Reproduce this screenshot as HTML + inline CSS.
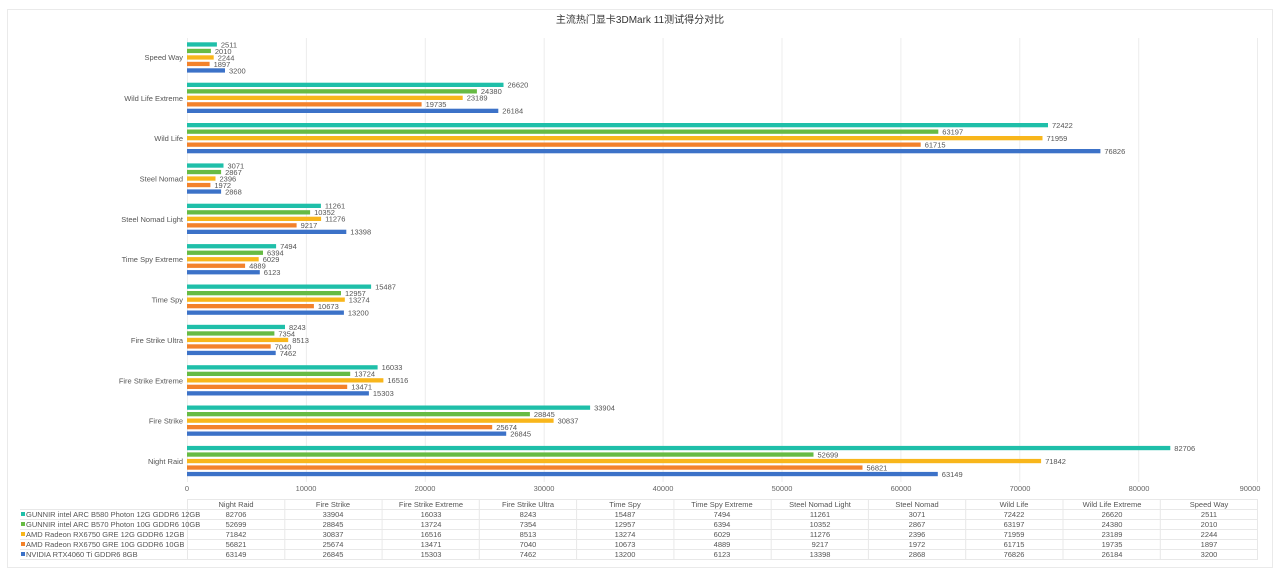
<!DOCTYPE html>
<html><head><meta charset="utf-8"><style>
html,body{margin:0;padding:0;background:#fff;}
svg{display:block;font-family:"Liberation Sans","Noto Sans CJK SC",sans-serif;}
.v{font-size:7.5px;fill:#555;}
.c{font-size:7.5px;fill:#555;text-anchor:end;}
.a{font-size:7.5px;fill:#666;text-anchor:middle;}
.t{font-size:7.5px;fill:#555;text-anchor:middle;}
.l{font-size:7.5px;fill:#555;}
</style></head><body>
<svg width="1280" height="576" viewBox="0 0 1280 576">
<rect x="7.5" y="9.5" width="1265" height="558" fill="#fff" stroke="#eaeaea"/>
<text x="640" y="23" text-anchor="middle" font-size="10" fill="#333">主流热门显卡3DMark 11测试得分对比</text>
<g stroke="#ececec" stroke-width="1">
<line x1="187.5" y1="38" x2="187.5" y2="482"/><line x1="306.4" y1="38" x2="306.4" y2="482"/><line x1="425.3" y1="38" x2="425.3" y2="482"/><line x1="544.2" y1="38" x2="544.2" y2="482"/><line x1="663.1" y1="38" x2="663.1" y2="482"/><line x1="782" y1="38" x2="782" y2="482"/><line x1="900.9" y1="38" x2="900.9" y2="482"/><line x1="1019.8" y1="38" x2="1019.8" y2="482"/><line x1="1138.7" y1="38" x2="1138.7" y2="482"/><line x1="1257.5" y1="38" x2="1257.5" y2="482"/>
</g>
<g>
<text class="a" x="187" y="491">0</text><text class="a" x="306" y="491">10000</text><text class="a" x="425" y="491">20000</text><text class="a" x="544" y="491">30000</text><text class="a" x="663" y="491">40000</text><text class="a" x="782" y="491">50000</text><text class="a" x="901" y="491">60000</text><text class="a" x="1020" y="491">70000</text><text class="a" x="1139" y="491">80000</text><text class="a" x="1250" y="491">90000</text>
</g>
<g>
<text class="c" x="183" y="60">Speed Way</text><text class="c" x="183" y="100.8">Wild Life Extreme</text><text class="c" x="183" y="141">Wild Life</text><text class="c" x="183" y="181.5">Steel Nomad</text><text class="c" x="183" y="221.8">Steel Nomad Light</text><text class="c" x="183" y="262.2">Time Spy Extreme</text><text class="c" x="183" y="302.6">Time Spy</text><text class="c" x="183" y="342.9">Fire Strike Ultra</text><text class="c" x="183" y="383.3">Fire Strike Extreme</text><text class="c" x="183" y="423.6">Fire Strike</text><text class="c" x="183" y="464">Night Raid</text>
</g>

<g transform="translate(187,42.3)">
<rect y="0" width="29.9" height="4.3" fill="#1fbfa9"/><rect y="6.5" width="23.9" height="4.3" fill="#67bb44"/><rect y="13" width="26.7" height="4.3" fill="#f8b61b"/><rect y="19.5" width="22.6" height="4.3" fill="#f3822b"/><rect y="26" width="38" height="4.3" fill="#3c72c8"/>
<text class="v" x="33.9" y="5">2511</text><text class="v" x="27.9" y="11.5">2010</text><text class="v" x="30.7" y="18">2244</text><text class="v" x="26.6" y="24.5">1897</text><text class="v" x="42" y="31">3200</text></g>

<g transform="translate(187,82.7)">
<rect y="0" width="316.5" height="4.3" fill="#1fbfa9"/><rect y="6.5" width="289.9" height="4.3" fill="#67bb44"/><rect y="13" width="275.7" height="4.3" fill="#f8b61b"/><rect y="19.5" width="234.6" height="4.3" fill="#f3822b"/><rect y="26" width="311.3" height="4.3" fill="#3c72c8"/>
<text class="v" x="320.5" y="5">26620</text><text class="v" x="293.9" y="11.5">24380</text><text class="v" x="279.7" y="18">23189</text><text class="v" x="238.6" y="24.5">19735</text><text class="v" x="315.3" y="31">26184</text></g>

<g transform="translate(187,123)">
<rect y="0" width="861" height="4.3" fill="#1fbfa9"/><rect y="6.5" width="751.3" height="4.3" fill="#67bb44"/><rect y="13" width="855.5" height="4.3" fill="#f8b61b"/><rect y="19.5" width="733.7" height="4.3" fill="#f3822b"/><rect y="26" width="913.4" height="4.3" fill="#3c72c8"/>
<text class="v" x="865" y="5">72422</text><text class="v" x="755.3" y="11.5">63197</text><text class="v" x="859.5" y="18">71959</text><text class="v" x="737.7" y="24.5">61715</text><text class="v" x="917.4" y="31">76826</text></g>

<g transform="translate(187,163.4)">
<rect y="0" width="36.5" height="4.3" fill="#1fbfa9"/><rect y="6.5" width="34.1" height="4.3" fill="#67bb44"/><rect y="13" width="28.5" height="4.3" fill="#f8b61b"/><rect y="19.5" width="23.4" height="4.3" fill="#f3822b"/><rect y="26" width="34.1" height="4.3" fill="#3c72c8"/>
<text class="v" x="40.5" y="5">3071</text><text class="v" x="38.1" y="11.5">2867</text><text class="v" x="32.5" y="18">2396</text><text class="v" x="27.4" y="24.5">1972</text><text class="v" x="38.1" y="31">2868</text></g>

<g transform="translate(187,203.7)">
<rect y="0" width="133.9" height="4.3" fill="#1fbfa9"/><rect y="6.5" width="123.1" height="4.3" fill="#67bb44"/><rect y="13" width="134.1" height="4.3" fill="#f8b61b"/><rect y="19.5" width="109.6" height="4.3" fill="#f3822b"/><rect y="26" width="159.3" height="4.3" fill="#3c72c8"/>
<text class="v" x="137.9" y="5">11261</text><text class="v" x="127.1" y="11.5">10352</text><text class="v" x="138.1" y="18">11276</text><text class="v" x="113.6" y="24.5">9217</text><text class="v" x="163.3" y="31">13398</text></g>

<g transform="translate(187,244.1)">
<rect y="0" width="89.1" height="4.3" fill="#1fbfa9"/><rect y="6.5" width="76" height="4.3" fill="#67bb44"/><rect y="13" width="71.7" height="4.3" fill="#f8b61b"/><rect y="19.5" width="58.1" height="4.3" fill="#f3822b"/><rect y="26" width="72.8" height="4.3" fill="#3c72c8"/>
<text class="v" x="93.1" y="5">7494</text><text class="v" x="80" y="11.5">6394</text><text class="v" x="75.7" y="18">6029</text><text class="v" x="62.1" y="24.5">4889</text><text class="v" x="76.8" y="31">6123</text></g>

<g transform="translate(187,284.5)">
<rect y="0" width="184.1" height="4.3" fill="#1fbfa9"/><rect y="6.5" width="154" height="4.3" fill="#67bb44"/><rect y="13" width="157.8" height="4.3" fill="#f8b61b"/><rect y="19.5" width="126.9" height="4.3" fill="#f3822b"/><rect y="26" width="156.9" height="4.3" fill="#3c72c8"/>
<text class="v" x="188.1" y="5">15487</text><text class="v" x="158" y="11.5">12957</text><text class="v" x="161.8" y="18">13274</text><text class="v" x="130.9" y="24.5">10673</text><text class="v" x="160.9" y="31">13200</text></g>

<g transform="translate(187,324.8)">
<rect y="0" width="98" height="4.3" fill="#1fbfa9"/><rect y="6.5" width="87.4" height="4.3" fill="#67bb44"/><rect y="13" width="101.2" height="4.3" fill="#f8b61b"/><rect y="19.5" width="83.7" height="4.3" fill="#f3822b"/><rect y="26" width="88.7" height="4.3" fill="#3c72c8"/>
<text class="v" x="102" y="5">8243</text><text class="v" x="91.4" y="11.5">7354</text><text class="v" x="105.2" y="18">8513</text><text class="v" x="87.7" y="24.5">7040</text><text class="v" x="92.7" y="31">7462</text></g>

<g transform="translate(187,365.2)">
<rect y="0" width="190.6" height="4.3" fill="#1fbfa9"/><rect y="6.5" width="163.2" height="4.3" fill="#67bb44"/><rect y="13" width="196.4" height="4.3" fill="#f8b61b"/><rect y="19.5" width="160.2" height="4.3" fill="#f3822b"/><rect y="26" width="181.9" height="4.3" fill="#3c72c8"/>
<text class="v" x="194.6" y="5">16033</text><text class="v" x="167.2" y="11.5">13724</text><text class="v" x="200.4" y="18">16516</text><text class="v" x="164.2" y="24.5">13471</text><text class="v" x="185.9" y="31">15303</text></g>

<g transform="translate(187,405.5)">
<rect y="0" width="403.1" height="4.3" fill="#1fbfa9"/><rect y="6.5" width="342.9" height="4.3" fill="#67bb44"/><rect y="13" width="366.6" height="4.3" fill="#f8b61b"/><rect y="19.5" width="305.2" height="4.3" fill="#f3822b"/><rect y="26" width="319.2" height="4.3" fill="#3c72c8"/>
<text class="v" x="407.1" y="5">33904</text><text class="v" x="346.9" y="11.5">28845</text><text class="v" x="370.6" y="18">30837</text><text class="v" x="309.2" y="24.5">25674</text><text class="v" x="323.2" y="31">26845</text></g>

<g transform="translate(187,445.9)">
<rect y="0" width="983.3" height="4.3" fill="#1fbfa9"/><rect y="6.5" width="626.5" height="4.3" fill="#67bb44"/><rect y="13" width="854.1" height="4.3" fill="#f8b61b"/><rect y="19.5" width="675.5" height="4.3" fill="#f3822b"/><rect y="26" width="750.8" height="4.3" fill="#3c72c8"/>
<text class="v" x="987.3" y="5">82706</text><text class="v" x="630.5" y="11.5">52699</text><text class="v" x="858.1" y="18">71842</text><text class="v" x="679.5" y="24.5">56821</text><text class="v" x="754.8" y="31">63149</text></g>

<g stroke="#e8e8e8" stroke-width="1">
<line x1="187" y1="499.5" x2="1258" y2="499.5"/>
<line x1="20" y1="509.5" x2="1258" y2="509.5"/>
<line x1="20" y1="519.5" x2="1258" y2="519.5"/>
<line x1="20" y1="529.5" x2="1258" y2="529.5"/>
<line x1="20" y1="539.5" x2="1258" y2="539.5"/>
<line x1="20" y1="549.5" x2="1258" y2="549.5"/>
<line x1="20" y1="559.5" x2="1258" y2="559.5"/>
<line x1="187.5" y1="499" x2="187.5" y2="560"/><line x1="284.8" y1="499" x2="284.8" y2="560"/><line x1="382.1" y1="499" x2="382.1" y2="560"/><line x1="479.3" y1="499" x2="479.3" y2="560"/><line x1="576.6" y1="499" x2="576.6" y2="560"/><line x1="673.9" y1="499" x2="673.9" y2="560"/><line x1="771.2" y1="499" x2="771.2" y2="560"/><line x1="868.4" y1="499" x2="868.4" y2="560"/><line x1="965.7" y1="499" x2="965.7" y2="560"/><line x1="1063" y1="499" x2="1063" y2="560"/><line x1="1160.3" y1="499" x2="1160.3" y2="560"/><line x1="1257.5" y1="499" x2="1257.5" y2="560"/>
</g>
<g>
<text class="t" x="236" y="507">Night Raid</text><text class="t" x="333" y="507">Fire Strike</text><text class="t" x="431" y="507">Fire Strike Extreme</text><text class="t" x="528" y="507">Fire Strike Ultra</text><text class="t" x="625" y="507">Time Spy</text><text class="t" x="722" y="507">Time Spy Extreme</text><text class="t" x="820" y="507">Steel Nomad Light</text><text class="t" x="917" y="507">Steel Nomad</text><text class="t" x="1014" y="507">Wild Life</text><text class="t" x="1112" y="507">Wild Life Extreme</text><text class="t" x="1209" y="507">Speed Way</text>
</g>
<rect x="21" y="512" width="4" height="4" fill="#1fbfa9"/><text class="l" x="26" y="517">GUNNIR intel ARC B580 Photon 12G GDDR6 12GB</text>
<rect x="21" y="522" width="4" height="4" fill="#67bb44"/><text class="l" x="26" y="527">GUNNIR intel ARC B570 Photon 10G GDDR6 10GB</text>
<rect x="21" y="532" width="4" height="4" fill="#f8b61b"/><text class="l" x="26" y="537">AMD Radeon RX6750 GRE 12G GDDR6 12GB</text>
<rect x="21" y="542" width="4" height="4" fill="#f3822b"/><text class="l" x="26" y="547">AMD Radeon RX6750 GRE 10G GDDR6 10GB</text>
<rect x="21" y="552" width="4" height="4" fill="#3c72c8"/><text class="l" x="26" y="557">NVIDIA RTX4060 Ti GDDR6 8GB</text>
<g>
<text class="t" x="236" y="517">82706</text><text class="t" x="333" y="517">33904</text><text class="t" x="431" y="517">16033</text><text class="t" x="528" y="517">8243</text><text class="t" x="625" y="517">15487</text><text class="t" x="722" y="517">7494</text><text class="t" x="820" y="517">11261</text><text class="t" x="917" y="517">3071</text><text class="t" x="1014" y="517">72422</text><text class="t" x="1112" y="517">26620</text><text class="t" x="1209" y="517">2511</text>
<text class="t" x="236" y="527">52699</text><text class="t" x="333" y="527">28845</text><text class="t" x="431" y="527">13724</text><text class="t" x="528" y="527">7354</text><text class="t" x="625" y="527">12957</text><text class="t" x="722" y="527">6394</text><text class="t" x="820" y="527">10352</text><text class="t" x="917" y="527">2867</text><text class="t" x="1014" y="527">63197</text><text class="t" x="1112" y="527">24380</text><text class="t" x="1209" y="527">2010</text>
<text class="t" x="236" y="537">71842</text><text class="t" x="333" y="537">30837</text><text class="t" x="431" y="537">16516</text><text class="t" x="528" y="537">8513</text><text class="t" x="625" y="537">13274</text><text class="t" x="722" y="537">6029</text><text class="t" x="820" y="537">11276</text><text class="t" x="917" y="537">2396</text><text class="t" x="1014" y="537">71959</text><text class="t" x="1112" y="537">23189</text><text class="t" x="1209" y="537">2244</text>
<text class="t" x="236" y="547">56821</text><text class="t" x="333" y="547">25674</text><text class="t" x="431" y="547">13471</text><text class="t" x="528" y="547">7040</text><text class="t" x="625" y="547">10673</text><text class="t" x="722" y="547">4889</text><text class="t" x="820" y="547">9217</text><text class="t" x="917" y="547">1972</text><text class="t" x="1014" y="547">61715</text><text class="t" x="1112" y="547">19735</text><text class="t" x="1209" y="547">1897</text>
<text class="t" x="236" y="557">63149</text><text class="t" x="333" y="557">26845</text><text class="t" x="431" y="557">15303</text><text class="t" x="528" y="557">7462</text><text class="t" x="625" y="557">13200</text><text class="t" x="722" y="557">6123</text><text class="t" x="820" y="557">13398</text><text class="t" x="917" y="557">2868</text><text class="t" x="1014" y="557">76826</text><text class="t" x="1112" y="557">26184</text><text class="t" x="1209" y="557">3200</text>
</g>
</svg>
</body></html>
